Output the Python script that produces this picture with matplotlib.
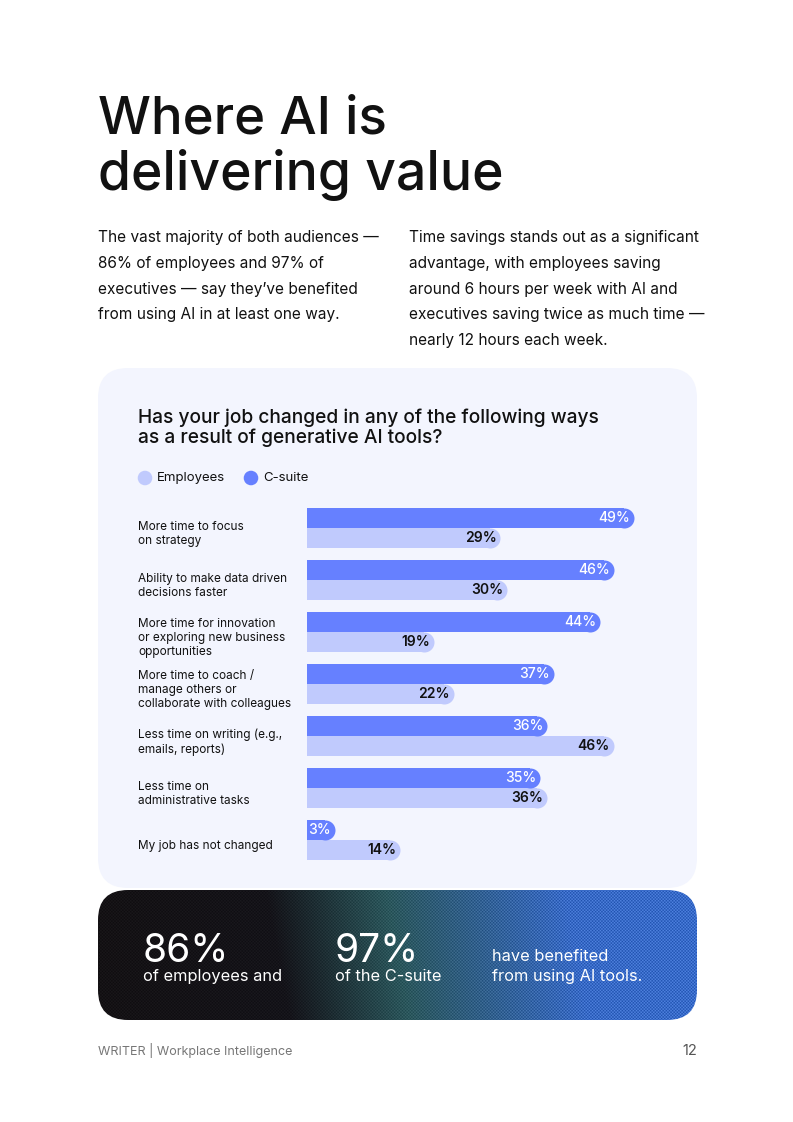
import numpy as np
import matplotlib.pyplot as plt
from matplotlib.patches import FancyBboxPatch

plt.rcParams['font.family'] = ['Inter', 'DejaVu Sans']

categories = [
    "More time to focus\non strategy",
    "Ability to make data driven\ndecisions faster",
    "More time for innovation\nor exploring new business\nopportunities",
    "More time to coach /\nmanage others or\ncollaborate with colleagues",
    "Less time on writing (e.g.,\nemails, reports)",
    "Less time on\nadministrative tasks",
    "My job has not changed",
]
csuite = [49, 46, 44, 37, 36, 35, 3]
employees = [29, 30, 19, 22, 46, 36, 14]
series_names = ["Employees", "C-suite"]

c_csuite = '#6680FF'
c_emp = '#C0CAFD'
c_panel = '#F3F5FE'
c_text = '#111111'

W, H = 793, 1122
fig = plt.figure(figsize=(W / 100, H / 100), dpi=100)
bg = fig.add_axes([0, 0, 1, 1])
bg.set_xlim(0, W)
bg.set_ylim(H, 0)
bg.axis('off')

# title and intro
bg.text(98, 133, "Where AI is", fontsize=38, color=c_text, va='baseline', fontweight='medium')
bg.text(98, 190, "delivering value", fontsize=38.5, color=c_text, va='baseline', fontweight='medium')

left_txt = ("The vast majority of both audiences —\n86% of employees and 97% of\n"
            "executives — say they’ve benefited\nfrom using AI in at least one way.")
right_txt = ("Time savings stands out as a significant\nadvantage, with employees saving\n"
             "around 6 hours per week with AI and\nexecutives saving twice as much time —\n"
             "nearly 12 hours each week.")
bg.text(98, 230, left_txt, fontsize=11.1, color=c_text, va='top', linespacing=1.9)
bg.text(409, 230, right_txt, fontsize=11.1, color=c_text, va='top', linespacing=1.9)

# chart panel
bg.add_patch(FancyBboxPatch((98, 368), 599, 520, boxstyle="round,pad=0,rounding_size=30",
                            fc=c_panel, ec='none'))
bg.text(138, 408, "Has your job changed in any of the following ways\nas a result of generative AI tools?",
        fontsize=13.8, color=c_text, va='top', linespacing=1.16, fontweight='medium')

# legend
bg.scatter([145, 251], [478, 478], s=110, c=[c_emp, c_csuite], edgecolors='none')
bg.text(157, 478, series_names[0], fontsize=9.5, color=c_text, va='center')
bg.text(263, 478, series_names[1], fontsize=9.5, color=c_text, va='center')

# bar chart axes
px_per_pct = 6.67
x0 = 307
group = 52
top = 502
ax = fig.add_axes([x0 / W, 1 - (top + group * 7) / H, 50 * px_per_pct / W, group * 7 / H])
ax.set_xlim(0, 50)
ax.set_ylim(6.5, -0.5)
ax.axis('off')
ax.patch.set_alpha(0)

bh = 20 / group          # bar height in data units
r = 10 / px_per_pct      # end cap radius in data units
min_len = 4.2            # short bars are stretched so the label fits
ypos = np.arange(len(categories))
for vals, col, off, tcol, fw in [(csuite, c_csuite, -bh / 2, 'white', 'medium'),
                                 (employees, c_emp, bh / 2, c_text, 'semibold')]:
    vals = np.array(vals, dtype=float)
    ends = np.maximum(vals, min_len)
    ax.barh(ypos + off, ends - r, height=bh, color=col, linewidth=0)
    ax.plot(ends - r, ypos + off, 'o', ms=20 * 0.72, color=col, mec='none')
    for y, v, e in zip(ypos + off, vals, ends):
        ax.text(e - 0.6, y, f"{int(v)}%", ha='right', va='center', fontsize=10,
                color=tcol, fontweight=fw)

for i, lab in enumerate(categories):
    ax.text(-169 / px_per_pct, i + 0.12, lab, ha='left', va='center', fontsize=8.5,
            color=c_text, linespacing=1.2, clip_on=False)

# banner with gradient texture
bx, by, bw, bhh = 98, 890, 599, 130
nx, ny = bw, bhh
gx = np.linspace(0, 1, nx)
gy = np.linspace(0, 1, ny)
GX, GY = np.meshgrid(gx, gy)
t = np.clip((GX - 0.28 - 0.04 * GY) / 0.5, 0, 1)[..., None]
dark = np.array([0.08, 0.07, 0.08])
mid = np.array([0.17, 0.33, 0.33])
blue = np.array([0.22, 0.40, 0.73])
img = np.where(t < 0.4, dark + (mid - dark) * (t / 0.4),
               mid + (blue - mid) * ((t - 0.4) / 0.6))
img = img + np.array([0.0, 0.02, 0.06]) * GX[..., None]
ii, jj = np.meshgrid(np.arange(nx), np.arange(ny))
weave = 0.08 * np.sin(ii * 2.0) * np.sin(jj * 2.0)
img = np.clip(img + weave[..., None] * (0.3 + t), 0, 1)
im = bg.imshow(img, extent=(bx, bx + bw, by + bhh, by), aspect='auto', zorder=1,
               interpolation='nearest')
clip = FancyBboxPatch((bx, by), bw, bhh, boxstyle="round,pad=0,rounding_size=30",
                      fc='none', ec='none', transform=bg.transData)
bg.add_patch(clip)
im.set_clip_path(clip)

bg.text(143, 962, "86%", fontsize=28, color='white', va='baseline', zorder=3)
bg.text(143, 976, "of employees and", fontsize=11.8, color='white', va='center', zorder=3)
bg.text(335, 962, "97%", fontsize=28, color='white', va='baseline', zorder=3)
bg.text(335, 976, "of the C-suite", fontsize=11.8, color='white', va='center', zorder=3)
bg.text(492, 956, "have benefited", fontsize=11.8, color='white', va='center', zorder=3)
bg.text(492, 976, "from using AI tools.", fontsize=11.8, color='white', va='center', zorder=3)

# footer
bg.text(98, 1051, "WRITER | Workplace Intelligence", fontsize=9, color='#777777', va='center')
bg.text(697, 1051, "12", fontsize=10.5, color='#555555', va='center', ha='right')

fig.savefig('out.png', dpi=100)
